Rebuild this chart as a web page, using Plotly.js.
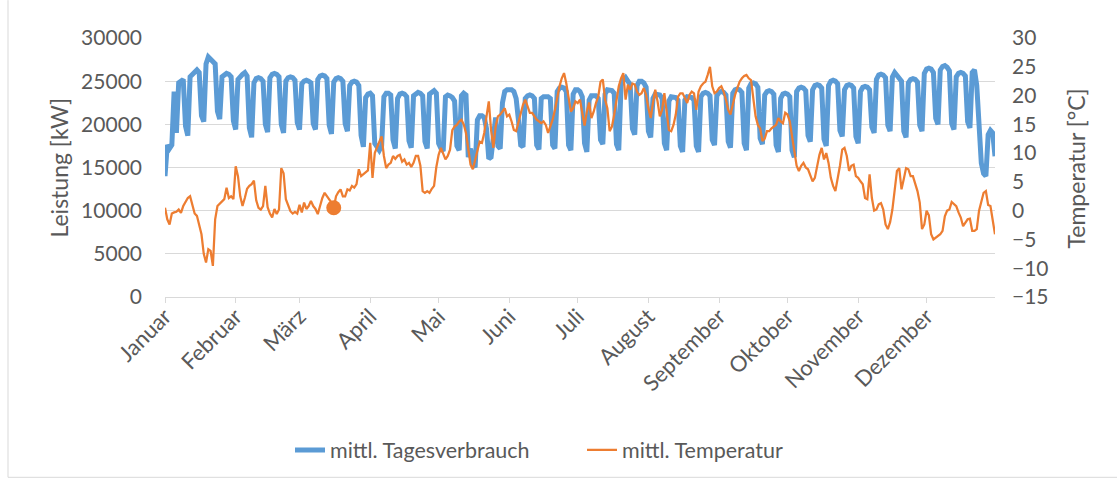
<!DOCTYPE html>
<html>
<head>
<meta charset="utf-8">
<script src="https://cdn.plot.ly/plotly-3.0.1.min.js"></script>
<style>
  html, body { margin: 0; padding: 0; background: #ffffff; }
  #chart { width: 1117px; height: 481px; }
</style>
</head>
<body>
<div id="chart"></div>
<script>
// ---------- DATA ----------
const year = 2015;
const monthNames = ['Januar', 'Februar', 'März', 'April', 'Mai', 'Juni', 'Juli',
                    'August', 'September', 'Oktober', 'November', 'Dezember'];
const seriesNames = ['mittl. Tagesverbrauch', 'mittl. Temperatur'];

// mittl. Tagesverbrauch [kW], one value per day (1 Jan .. 31 Dec)
const consumption = [
  14000, 17600, 17200, 17600,
  23800, 19000, 24800, 25000, 25200, 19800, 18700,
  25500, 25800, 26200, 26300, 26000, 21000, 20300,
  27000, 27800, 27500, 27300, 27000, 21500, 20600,
  25500, 25800, 25900, 25800, 25500, 20400, 19400,
  25200, 25600, 25800, 26000, 25600, 19600, 18500,
  24800, 25300, 25400, 25300, 25000, 20000, 19100,
  25400, 25800, 25900, 25800, 25500, 20000, 19000,
  25000, 25400, 25500, 25400, 25100, 20200, 19400,
  24700, 25000, 25100, 25000, 24800, 20100, 19400,
  25200, 25600, 25700, 25600, 25300, 19900, 18900,
  24900, 25300, 25400, 25300, 25000, 20100, 19200,
  24500, 24900, 25000, 24900, 24500, 18700, 17400,
  23100, 23500, 23600, 23300, 17800, 17400, 17000,
  17500, 23200, 23600, 23600, 23400, 18200, 17200,
  23000, 23500, 23600, 23500, 23200, 18100, 17300,
  23300, 23600, 23700, 23600, 23300, 18000, 17200,
  23500, 23800, 23900, 23600, 17800, 17200, 16900,
  23200, 23400, 23300, 23100, 22700, 17500, 17000,
  23300, 23600, 23400, 16200, 17200, 15500, 15000,
  20500, 21000, 21000, 20800, 19500, 16000, 16200,
  18500, 20800, 17500, 17200, 22500, 23800, 24000,
  24000, 24000, 23800, 23000, 20500, 17600, 17400,
  23000, 23300, 23400, 23300, 23000, 17600, 17100,
  23000, 23200, 23200, 23200, 23000, 17600, 17200,
  23800, 24200, 24300, 24200, 23800, 17600, 17000,
  23500, 24000, 24000, 23800, 23200, 17800, 16800,
  22800, 23300, 23300, 23300, 23000, 18200, 17700,
  23500, 24000, 24000, 23900, 23600, 17700, 17000,
  24500, 25100, 25400, 25000, 24600, 19500, 18800,
  24500, 25000, 25000, 24800, 24300, 19200, 18500,
  23000, 23500, 23500, 23400, 23000, 17800, 17000,
  22700, 23200, 23200, 23100, 22800, 17500, 16800,
  22800, 23200, 23200, 23100, 22800, 17500, 16800,
  23200, 23600, 23700, 23600, 23300, 18200, 17600,
  23300, 23700, 23800, 23700, 23400, 18000, 17300,
  23600, 24000, 24100, 24000, 23700, 17800, 17000,
  24200, 24700, 24800, 24700, 24300, 18400, 17700,
  23400, 23800, 23900, 23800, 23500, 17600, 16800,
  23000, 23500, 23600, 23500, 23200, 17000, 16200,
  23800, 24200, 24300, 24200, 23900, 18700, 18000,
  24000, 24500, 24600, 24500, 24200, 18300, 17500,
  24500, 25000, 25100, 25000, 24700, 19300, 18600,
  24000, 24500, 24600, 24500, 24200, 18600, 17800,
  23800, 24300, 24400, 24300, 24000, 19700, 19000,
  25200, 25700, 25800, 25700, 25400, 19900, 19200,
  25500, 26000, 25600, 25200, 25000, 19200, 18500,
  24800, 25200, 25300, 25200, 24900, 19900, 19200,
  25900, 26400, 26500, 26400, 26000, 20700, 20000,
  26300, 26700, 26800, 26600, 26200, 20100, 19400,
  25500, 25900, 26000, 25900, 25600, 20300, 19600,
  26000, 26300, 24500, 19500, 15500, 14300, 14000,
  18800, 19300, 19000, 16300
];

// mittl. Temperatur [°C], one value per day
const temperature = [
  0.5, -1.5, -2.4, -0.5, -0.3, -0.2, 0.2, -0.4, 0.8, 1.5,
  2.2, 2.5, 1.0, -0.5, -0.9, -2.7, -4.1, -7.5, -9.0, -6.7,
  -7.0, -9.6, -1.5, 0.8, 1.2, 1.5, 2.0, 4.0, 2.2, 2.5,
  2.0, 7.7, 6.0, 2.5, 0.8, 2.2, 3.8, 4.3, 4.6, 5.2,
  1.8, 0.5, 0.2, 0.8, 4.3, 0.6, -0.5, -1.2, 0.3, -0.6,
  0.2, 7.4, 6.5, 2.0, 0.8, -0.1, -0.5, -0.2, -0.5, 1.0,
  -0.3, 1.4, 0.3, 0.8, 1.7, 0.8, 0.3, -0.6, 0.8, 2.2,
  3.1, 2.5, 2.0, 1.4, 0.5, 2.5, 3.2, 3.7, 2.5, 2.5,
  3.7, 3.5, 4.3, 4.0, 4.6, 7.2, 6.0, 6.3, 6.6, 7.0,
  11.8, 5.7, 10.0, 11.2, 12.0, 12.9, 9.5, 7.4, 8.0, 8.3,
  9.5, 9.0, 9.5, 9.7, 8.5, 8.9, 8.0, 8.3, 7.6, 8.3,
  9.5, 9.5, 7.8, 3.4, 3.1, 3.4, 3.1, 3.8, 4.3, 7.6,
  9.7, 10.9, 10.0, 8.9, 9.5, 10.6, 14.0, 14.6, 14.9, 15.5,
  15.8, 15.0, 13.5, 10.6, 8.0, 7.2, 8.9, 10.5, 12.0, 11.8,
  13.5, 16.4, 19.0, 14.0, 10.9, 14.6, 16.4, 16.7, 17.2, 17.8,
  16.4, 16.7, 15.5, 14.0, 13.8, 15.5, 17.0, 18.4, 19.3, 18.2,
  17.0, 17.0, 16.4, 15.8, 15.5, 15.2, 15.5, 14.9, 13.5, 14.6,
  15.8, 17.5, 19.8, 21.6, 23.0, 23.9, 22.1, 19.3, 17.2, 17.8,
  19.0, 18.7, 19.3, 17.0, 14.8, 17.2, 18.8, 16.1, 17.2, 18.7,
  19.8, 22.4, 22.8, 19.3, 17.8, 13.8, 14.6, 16.7, 19.6, 21.6,
  23.0, 23.9, 19.3, 21.9, 21.0, 22.1, 21.9, 20.7, 20.1, 20.4,
  21.3, 20.1, 17.8, 16.1, 18.7, 21.0, 19.0, 16.4, 17.5, 20.4,
  17.2, 14.0, 13.8, 14.9, 16.7, 19.8, 20.4, 20.4, 19.6, 18.7,
  20.1, 20.7, 20.4, 17.5, 20.7, 21.6, 22.1, 22.4, 23.6, 25.0,
  21.6, 20.4, 20.7, 21.3, 21.6, 20.7, 19.3, 17.5, 16.7, 18.7,
  20.1, 21.3, 22.4, 23.0, 23.4, 23.6, 23.0, 22.7, 19.3, 16.4,
  14.9, 14.3, 12.1, 12.5, 13.8, 13.8, 14.3, 14.6, 14.9, 16.1,
  15.5, 15.2, 17.0, 16.7, 15.5, 12.9, 10.3, 7.8, 6.9, 7.8,
  8.3, 7.5, 7.2, 6.0, 5.1, 5.7, 7.8, 9.7, 10.9, 8.9,
  10.0, 8.3, 5.7, 4.3, 3.4, 5.5, 7.8, 10.6, 10.9, 9.5,
  6.9, 7.8, 8.0, 6.0, 5.7, 5.1, 4.6, 2.2, 2.0, 6.3,
  2.2, 0.0, 0.2, 1.1, 1.3, 0.2, -2.4, -3.2, -2.0, 0.2,
  3.7, 6.9, 7.4, 3.7, 5.5, 7.4, 7.2, 6.0, 6.0, 4.8,
  3.4, 1.4, -3.2, -2.4, 0.0, -0.8, -4.1, -5.0, -4.7, -4.4,
  -4.1, -3.5, -1.0, 0.0, 0.2, 1.5, 1.1, 0.8, -0.3, -1.2,
  -2.7, -2.1, -1.5, -1.4, -3.5, -3.5, -3.2, 0.0, 1.7, 3.1,
  3.4, 1.0, 0.8, -2.0, -4.1
];

// the single highlighted temperature point (day index)
const highlightIndex = 74;

// ---------- DERIVED CATEGORIES (calendar days / month starts) ----------
function isoDay(offset) {
  return new Date(Date.UTC(year, 0, 1 + offset)).toISOString().slice(0, 10);
}
const days = consumption.map((_, i) => isoDay(i));
const monthStarts = monthNames.map((_, m) =>
  new Date(Date.UTC(year, m, 1)).toISOString().slice(0, 10));

// ---------- STYLE ----------
const textColor = '#595959';
const gridColor = '#D9D9D9';
const fontFamily = 'Lato, "Open Sans", sans-serif';

const traces = [
  {
    type: 'scatter', mode: 'lines', name: seriesNames[0],
    x: days, y: consumption, yaxis: 'y',
    line: { color: '#5B9BD5', width: 5 },
    hoverinfo: 'skip'
  },
  {
    type: 'scatter', mode: 'lines', name: seriesNames[1],
    x: days, y: temperature, yaxis: 'y2',
    line: { color: '#ED7D31', width: 2.25 },
    hoverinfo: 'skip'
  },
  {
    type: 'scatter', mode: 'markers', showlegend: false,
    x: [days[highlightIndex]], y: [temperature[highlightIndex]], yaxis: 'y2',
    marker: { color: '#ED7D31', size: 15 },
    hoverinfo: 'skip'
  }
];

const W = 1117, H = 481;
const M = { l: 165, r: 122, t: 38, b: 183 };
const pw = W - M.l - M.r, ph = H - M.t - M.b;
const px = v => (v - M.l) / pw;          // pixel x -> paper x
const py = v => (H - M.b - v) / ph;      // pixel y -> paper y

const layout = {
  width: W, height: H,
  margin: M,
  paper_bgcolor: '#ffffff', plot_bgcolor: '#ffffff',
  font: { family: fontFamily, size: 21, color: textColor },
  showlegend: true,
  legend: {
    orientation: 'h', x: px(582), xanchor: 'center', y: py(450), yanchor: 'middle',
    font: { family: fontFamily, size: 21.5, color: textColor },
    entrywidth: 247, entrywidthmode: 'pixels',
    bgcolor: 'rgba(0,0,0,0)'
  },
  xaxis: {
    type: 'date',
    range: [days[0], days[days.length - 1]],
    tickmode: 'array', tickvals: monthStarts, ticktext: monthNames,
    tickangle: -45,
    showgrid: false, zeroline: false,
    showline: true, linecolor: gridColor, linewidth: 1,
    ticks: 'outside', ticklen: 5, tickcolor: gridColor,
    ticklabelstandoff: -8,
    tickfont: { family: fontFamily, size: 22, color: textColor },
    fixedrange: true
  },
  yaxis: {
    range: [0, 30000], tick0: 0, dtick: 5000, tickformat: 'd',
    showgrid: true, gridcolor: gridColor, gridwidth: 1,
    zeroline: false, showline: false, ticks: '',
    ticklabelstandoff: 22,
    tickfont: { family: fontFamily, size: 21, color: textColor },
    fixedrange: true
  },
  yaxis2: {
    overlaying: 'y', side: 'right',
    range: [-15, 30], tick0: -15, dtick: 5,
    showgrid: false, zeroline: false, showline: false, ticks: '',
    ticklabelstandoff: 16,
    tickfont: { family: fontFamily, size: 21, color: textColor },
    fixedrange: true
  },
  annotations: [
    {
      text: 'Leistung [kW]', textangle: -90,
      xref: 'paper', yref: 'paper', x: px(59), y: py(169),
      xanchor: 'center', yanchor: 'middle', showarrow: false,
      font: { family: fontFamily, size: 23, color: textColor }
    },
    {
      text: 'Temperatur [°C]', textangle: -90,
      xref: 'paper', yref: 'paper', x: px(1076), y: py(169),
      xanchor: 'center', yanchor: 'middle', showarrow: false,
      font: { family: fontFamily, size: 23, color: textColor }
    }
  ],
  shapes: [
    { type: 'line', xref: 'paper', yref: 'paper',
      x0: px(8), x1: px(8), y0: py(0), y1: py(479),
      line: { color: gridColor, width: 1 } },
    { type: 'line', xref: 'paper', yref: 'paper',
      x0: px(8), x1: px(1117), y0: py(479), y1: py(479),
      line: { color: gridColor, width: 1 } }
  ]
};

Plotly.newPlot('chart', traces, layout, { staticPlot: true, displayModeBar: false });
</script>
</body>
</html>
